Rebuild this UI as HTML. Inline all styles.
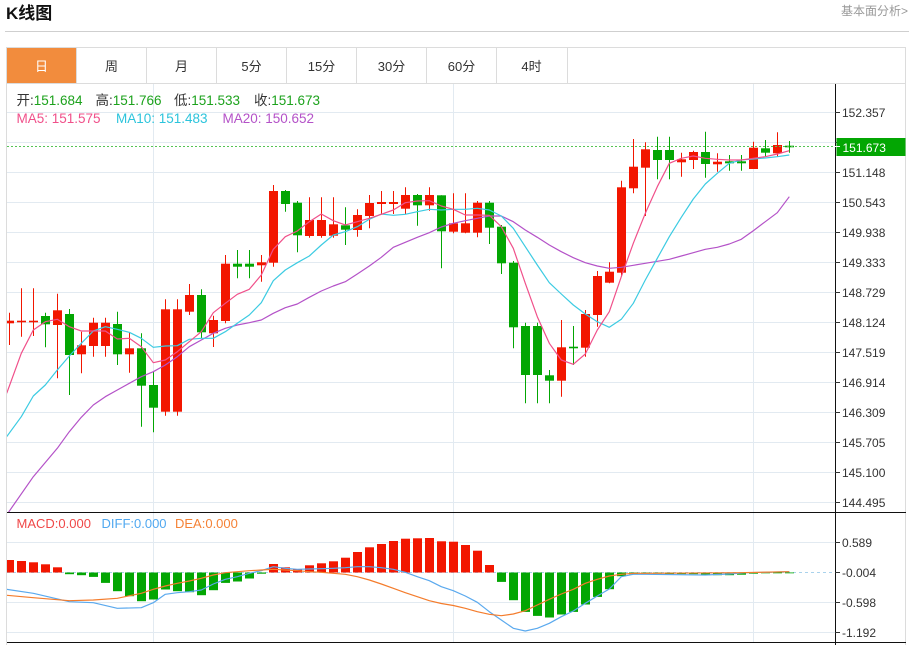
<!DOCTYPE html>
<html><head><meta charset="utf-8"><style>
html,body{margin:0;padding:0;background:#fff;}
svg{display:block;font-family:"Liberation Sans","Noto Sans CJK SC",sans-serif;}
</style></head><body>
<svg width="912" height="645" viewBox="0 0 912 645" xmlns="http://www.w3.org/2000/svg">
<defs>
<clipPath id="cm"><rect x="7" y="84" width="828" height="428"/></clipPath>
<clipPath id="cd"><rect x="7" y="513" width="828" height="129"/></clipPath>
</defs>
<rect width="912" height="645" fill="#fff"/>
<!-- header -->
<text x="6" y="19" font-size="17" font-weight="bold" fill="#111">K线图</text>
<text x="908" y="15" font-size="12" fill="#999" text-anchor="end">基本面分析&gt;</text>
<line x1="5" y1="31.5" x2="909" y2="31.5" stroke="#cfcfcf" stroke-width="1"/>
<!-- tabs -->
<rect x="6.5" y="47.5" width="899" height="36" fill="#fff" stroke="#dcdcdc"/>
<rect x="7" y="48" width="69.5" height="35" fill="#f28c3d"/>
<g stroke="#dcdcdc">
<line x1="146.5" y1="48" x2="146.5" y2="83"/><line x1="216.5" y1="48" x2="216.5" y2="83"/>
<line x1="286.5" y1="48" x2="286.5" y2="83"/><line x1="356.5" y1="48" x2="356.5" y2="83"/>
<line x1="426.5" y1="48" x2="426.5" y2="83"/><line x1="496.5" y1="48" x2="496.5" y2="83"/>
<line x1="567.5" y1="48" x2="567.5" y2="83"/><line x1="76.5" y1="48" x2="76.5" y2="83"/>
</g>
<g font-size="13" text-anchor="middle" fill="#333">
<text x="41.5" y="71" fill="#fff">日</text>
<text x="111.5" y="71">周</text>
<text x="181.5" y="71">月</text>
<text x="251.5" y="71">5分</text>
<text x="321.5" y="71">15分</text>
<text x="391.5" y="71">30分</text>
<text x="461.5" y="71">60分</text>
<text x="531.5" y="71">4时</text>
</g>
<!-- chart borders -->
<line x1="6.5" y1="83" x2="6.5" y2="645" stroke="#dcdcdc"/>
<line x1="905.5" y1="83" x2="905.5" y2="645" stroke="#dcdcdc"/>
<!-- grid -->
<g stroke="#e2eaf1" stroke-width="1">
<line x1="7" y1="112.5" x2="835" y2="112.5"/><line x1="7" y1="142.5" x2="835" y2="142.5"/>
<line x1="7" y1="172.5" x2="835" y2="172.5"/><line x1="7" y1="202.5" x2="835" y2="202.5"/>
<line x1="7" y1="232.5" x2="835" y2="232.5"/><line x1="7" y1="262.5" x2="835" y2="262.5"/>
<line x1="7" y1="292.5" x2="835" y2="292.5"/><line x1="7" y1="322.5" x2="835" y2="322.5"/>
<line x1="7" y1="352.5" x2="835" y2="352.5"/><line x1="7" y1="382.5" x2="835" y2="382.5"/>
<line x1="7" y1="412.5" x2="835" y2="412.5"/><line x1="7" y1="442.5" x2="835" y2="442.5"/>
<line x1="7" y1="472.5" x2="835" y2="472.5"/><line x1="7" y1="502.5" x2="835" y2="502.5"/>
<line x1="7" y1="542.5" x2="835" y2="542.5"/><line x1="7" y1="602.5" x2="835" y2="602.5"/>
<line x1="7" y1="632.5" x2="835" y2="632.5"/>
<line x1="153.5" y1="84" x2="153.5" y2="642"/><line x1="453.5" y1="84" x2="453.5" y2="642"/>
<line x1="753.5" y1="84" x2="753.5" y2="642"/>
</g>
<!-- legend -->
<g font-size="13.5">
<text x="16.5" y="105"><tspan fill="#333">开:</tspan><tspan fill="#1ca21c">151.684</tspan></text>
<text x="95.5" y="105"><tspan fill="#333">高:</tspan><tspan fill="#1ca21c">151.766</tspan></text>
<text x="174" y="105"><tspan fill="#333">低:</tspan><tspan fill="#1ca21c">151.533</tspan></text>
<text x="254" y="105"><tspan fill="#333">收:</tspan><tspan fill="#1ca21c">151.673</tspan></text>
<text x="16.5" y="123" fill="#f0508a">MA5: 151.575</text>
<text x="116" y="123" fill="#2cc4dc">MA10: 151.483</text>
<text x="222.5" y="123" fill="#b452c8">MA20: 150.652</text>
</g>
<!-- candles -->
<g clip-path="url(#cm)">
<g stroke="#f21600" fill="#f21600" stroke-width="1">
<line x1="9.5" y1="312.7" x2="9.5" y2="345"/><rect x="5" y="320.7" width="9" height="2.6" stroke="none"/>
<line x1="21.5" y1="288.3" x2="21.5" y2="336.7"/><rect x="17" y="320.7" width="9" height="1.6" stroke="none"/>
<line x1="33.5" y1="288.3" x2="33.5" y2="336"/><rect x="29" y="320.7" width="9" height="1.6" stroke="none"/>
<line x1="57.5" y1="293.7" x2="57.5" y2="378.3"/><rect x="53" y="310.3" width="9" height="14.7" stroke="none"/>
<line x1="81.5" y1="331.7" x2="81.5" y2="373.3"/><rect x="77" y="345.3" width="9" height="9" stroke="none"/>
<line x1="93.5" y1="317.7" x2="93.5" y2="356.7"/><rect x="89" y="322.7" width="9" height="23.3" stroke="none"/>
<line x1="105.5" y1="317.7" x2="105.5" y2="356.7"/><rect x="101" y="322.7" width="9" height="23.3" stroke="none"/>
<line x1="129.5" y1="332.3" x2="129.5" y2="372.7"/><rect x="125" y="348.3" width="9" height="6" stroke="none"/>
<line x1="165.5" y1="299.3" x2="165.5" y2="415.7"/><rect x="161" y="309.3" width="9" height="102.4" stroke="none"/>
<line x1="177.5" y1="299.3" x2="177.5" y2="415.7"/><rect x="173" y="309.3" width="9" height="102.4" stroke="none"/>
<line x1="189.5" y1="284" x2="189.5" y2="315"/><rect x="185" y="295" width="9" height="16.7" stroke="none"/>
<line x1="213.5" y1="315.7" x2="213.5" y2="347"/><rect x="209" y="320" width="9" height="13.3" stroke="none"/>
<line x1="225.5" y1="255" x2="225.5" y2="323.3"/><rect x="221" y="263.7" width="9" height="57.3" stroke="none"/>
<line x1="261.5" y1="255" x2="261.5" y2="281.7"/><rect x="257" y="262.3" width="9" height="3" stroke="none"/>
<line x1="273.5" y1="185" x2="273.5" y2="266.7"/><rect x="269" y="191" width="9" height="71.7" stroke="none"/>
<line x1="309.5" y1="197.3" x2="309.5" y2="237.7"/><rect x="305" y="220" width="9" height="16" stroke="none"/>
<line x1="321.5" y1="197.3" x2="321.5" y2="237.7"/><rect x="317" y="220" width="9" height="16" stroke="none"/>
<line x1="333.5" y1="197.3" x2="333.5" y2="237.7"/><rect x="329" y="224.3" width="9" height="11.4" stroke="none"/>
<line x1="357.5" y1="209.3" x2="357.5" y2="236.7"/><rect x="353" y="215" width="9" height="15" stroke="none"/>
<line x1="369.5" y1="195" x2="369.5" y2="228.3"/><rect x="365" y="203" width="9" height="13" stroke="none"/>
<line x1="381.5" y1="191" x2="381.5" y2="214"/><rect x="377" y="202" width="9" height="2" stroke="none"/>
<line x1="393.5" y1="191" x2="393.5" y2="214"/><rect x="389" y="202" width="9" height="2" stroke="none"/>
<line x1="405.5" y1="187.3" x2="405.5" y2="214"/><rect x="401" y="195" width="9" height="13.7" stroke="none"/>
<line x1="429.5" y1="187.3" x2="429.5" y2="210.7"/><rect x="425" y="195" width="9" height="10.3" stroke="none"/>
<line x1="453.5" y1="193.3" x2="453.5" y2="233.3"/><rect x="449" y="223.3" width="9" height="8.4" stroke="none"/>
<line x1="465.5" y1="193.3" x2="465.5" y2="233.3"/><rect x="461" y="223.3" width="9" height="9.4" stroke="none"/>
<line x1="477.5" y1="201" x2="477.5" y2="237.3"/><rect x="473" y="202.7" width="9" height="30" stroke="none"/>
<line x1="561.5" y1="320" x2="561.5" y2="396.7"/><rect x="557" y="347.3" width="9" height="33.4" stroke="none"/>
<line x1="585.5" y1="310" x2="585.5" y2="356.7"/><rect x="581" y="314" width="9" height="33.7" stroke="none"/>
<line x1="597.5" y1="271" x2="597.5" y2="326.7"/><rect x="593" y="276" width="9" height="39" stroke="none"/>
<line x1="609.5" y1="262.3" x2="609.5" y2="283.3"/><rect x="605" y="271.7" width="9" height="11" stroke="none"/>
<line x1="621.5" y1="180.7" x2="621.5" y2="276.7"/><rect x="617" y="187.3" width="9" height="85.4" stroke="none"/>
<line x1="633.5" y1="139" x2="633.5" y2="193.3"/><rect x="629" y="166.7" width="9" height="21.6" stroke="none"/>
<line x1="645.5" y1="142.3" x2="645.5" y2="216"/><rect x="641" y="149.3" width="9" height="18.4" stroke="none"/>
<line x1="681.5" y1="152.7" x2="681.5" y2="176.7"/><rect x="677" y="159.3" width="9" height="3" stroke="none"/>
<line x1="693.5" y1="150.7" x2="693.5" y2="169"/><rect x="689" y="152" width="9" height="8" stroke="none"/>
<line x1="717.5" y1="153.3" x2="717.5" y2="171.7"/><rect x="713" y="161.7" width="9" height="2.6" stroke="none"/>
<line x1="753.5" y1="141.7" x2="753.5" y2="169"/><rect x="749" y="147.7" width="9" height="21.3" stroke="none"/>
<line x1="777.5" y1="132.3" x2="777.5" y2="156.7"/><rect x="773" y="145" width="9" height="8.3" stroke="none"/>
</g>
<g stroke="#03a603" fill="#03a603" stroke-width="1">
<line x1="45.5" y1="312.7" x2="45.5" y2="347.3"/><rect x="41" y="316" width="9" height="8.3" stroke="none"/>
<line x1="69.5" y1="309" x2="69.5" y2="395"/><rect x="65" y="314" width="9" height="41" stroke="none"/>
<line x1="117.5" y1="311.7" x2="117.5" y2="365"/><rect x="113" y="324" width="9" height="30.3" stroke="none"/>
<line x1="141.5" y1="333.3" x2="141.5" y2="426.7"/><rect x="137" y="348.3" width="9" height="37.4" stroke="none"/>
<line x1="153.5" y1="371.7" x2="153.5" y2="432.3"/><rect x="149" y="385" width="9" height="22.7" stroke="none"/>
<line x1="201.5" y1="289.3" x2="201.5" y2="338.3"/><rect x="197" y="295" width="9" height="37.3" stroke="none"/>
<line x1="237.5" y1="250" x2="237.5" y2="278.3"/><rect x="233" y="263.7" width="9" height="3" stroke="none"/>
<line x1="249.5" y1="250" x2="249.5" y2="278.3"/><rect x="245" y="263.7" width="9" height="3" stroke="none"/>
<line x1="285.5" y1="190" x2="285.5" y2="211.7"/><rect x="281" y="191" width="9" height="13" stroke="none"/>
<line x1="297.5" y1="201" x2="297.5" y2="252.3"/><rect x="293" y="202.7" width="9" height="32.6" stroke="none"/>
<line x1="345.5" y1="207.3" x2="345.5" y2="245"/><rect x="341" y="225.3" width="9" height="4.4" stroke="none"/>
<line x1="417.5" y1="194" x2="417.5" y2="225.7"/><rect x="413" y="195" width="9" height="10.3" stroke="none"/>
<line x1="441.5" y1="195.3" x2="441.5" y2="268.3"/><rect x="437" y="195.3" width="9" height="36" stroke="none"/>
<line x1="489.5" y1="201" x2="489.5" y2="244"/><rect x="485" y="202.7" width="9" height="25" stroke="none"/>
<line x1="501.5" y1="225" x2="501.5" y2="274"/><rect x="497" y="226.7" width="9" height="36.6" stroke="none"/>
<line x1="513.5" y1="261" x2="513.5" y2="348.3"/><rect x="509" y="262.7" width="9" height="64.6" stroke="none"/>
<line x1="525.5" y1="322.7" x2="525.5" y2="403.3"/><rect x="521" y="326" width="9" height="49" stroke="none"/>
<line x1="537.5" y1="322.7" x2="537.5" y2="403.3"/><rect x="533" y="326" width="9" height="49" stroke="none"/>
<line x1="549.5" y1="370" x2="549.5" y2="403.3"/><rect x="545" y="375.3" width="9" height="5.4" stroke="none"/>
<line x1="573.5" y1="326" x2="573.5" y2="365"/><rect x="569" y="346.7" width="9" height="1.6" stroke="none"/>
<line x1="657.5" y1="136.7" x2="657.5" y2="179.3"/><rect x="653" y="150" width="9" height="10" stroke="none"/>
<line x1="669.5" y1="136.7" x2="669.5" y2="179.3"/><rect x="665" y="150" width="9" height="10" stroke="none"/>
<line x1="705.5" y1="131.7" x2="705.5" y2="177.7"/><rect x="701" y="152" width="9" height="12" stroke="none"/>
<line x1="729.5" y1="155" x2="729.5" y2="170.7"/><rect x="725" y="161.3" width="9" height="2" stroke="none"/>
<line x1="741.5" y1="155" x2="741.5" y2="170.7"/><rect x="737" y="161.3" width="9" height="2" stroke="none"/>
<line x1="765.5" y1="140" x2="765.5" y2="156.7"/><rect x="761" y="148.3" width="9" height="4.4" stroke="none"/>
<line x1="789.5" y1="141" x2="789.5" y2="152.7"/><rect x="785" y="145.7" width="9" height="1.6" stroke="none"/>
</g>
<!-- MA lines -->
<g fill="none" stroke-width="1.2" stroke-linejoin="round">
<polyline stroke="#b452c8" points="8,513 33.3,476.7 57.3,448.3 69.3,431.7 81.3,417.3 93.3,405 105.3,396.7 117.3,390 129.3,383.3 141.3,376.7 153.3,371.7 165.3,365 177.3,356.7 189.3,346.7 201.3,340 213.3,333.3 225.3,328.3 237.3,325 249.3,322.7 261.3,320 273.3,313.3 285.3,307.7 297.3,304 309.3,297.3 321.3,291 333.3,286 345.3,281.7 357.3,274 369.3,266 381.3,257.3 393.3,247.3 405.3,242.3 417.3,237.3 429.3,232.7 441.3,227 453.3,223.3 465.3,220.7 477.3,218.3 489.3,216 501.3,216 513.3,221.7 525.3,230 537.3,237.3 549.3,245 561.3,251.7 573.3,257.7 585.3,262.7 597.3,266 609.3,268.3 621.3,267.3 633.3,265.3 645.3,263.3 657.3,261.3 669.3,259.3 681.3,256 693.3,252.7 705.3,249.3 717.3,247.3 729.3,244 741.3,239.3 753.3,230.7 765.3,221.7 777.3,212.7 789.3,196.7"/>
<polyline stroke="#3ccbe2" points="6.7,436.7 21.3,416.7 33.3,396 45.3,385 57.3,370 69.3,356 81.3,343.3 93.3,331 105.3,326.7 117.3,329.3 129.3,332.3 141.3,338.3 153.3,347.3 165.3,346 177.3,345.7 189.3,339.3 201.3,338.3 213.3,338.3 225.3,331.7 237.3,323.3 249.3,315 261.3,302.7 273.3,280.7 285.3,270 297.3,262.7 309.3,256 321.3,245 333.3,235 345.3,231.7 357.3,226.7 369.3,219.3 381.3,214 393.3,215.3 405.3,214.3 417.3,211.7 429.3,209.3 441.3,210 453.3,209.3 465.3,209.3 477.3,208.3 489.3,210 501.3,216 513.3,228.3 525.3,246.7 537.3,265 549.3,282.7 561.3,294 573.3,305 585.3,314 597.3,321.7 609.3,327.3 621.3,319.3 633.3,303.3 645.3,280 657.3,258.3 669.3,236.7 681.3,217.3 693.3,199 705.3,184 717.3,173.3 729.3,163.3 741.3,160 753.3,159 765.3,158 777.3,156.7 789.3,155"/>
<polyline stroke="#f0508a" points="6.7,393.3 21.3,353.3 33.3,330 45.3,321.7 57.3,319.3 69.3,326.7 81.3,331 93.3,331 105.3,331 117.3,339 129.3,338.3 141.3,346.7 153.3,362.7 165.3,360 177.3,351.7 189.3,341.7 201.3,331.7 213.3,312.7 225.3,303.3 237.3,294.3 249.3,289.3 261.3,275 273.3,249.3 285.3,236.7 297.3,231 309.3,221.7 321.3,214 333.3,220.7 345.3,225 357.3,221.7 369.3,218.3 381.3,214.3 393.3,210 405.3,202.7 417.3,201 429.3,200.7 441.3,206 453.3,209.3 465.3,215 477.3,215 489.3,215.3 501.3,226.7 513.3,248.3 525.3,283.3 537.3,316.7 549.3,343.3 561.3,360 573.3,364.3 585.3,354 597.3,330 609.3,311.7 621.3,276.7 633.3,243.3 645.3,213.3 657.3,186.7 669.3,163.3 681.3,158.3 693.3,156 705.3,158.3 717.3,159.3 729.3,160 741.3,160 753.3,158.3 765.3,156.7 777.3,154 789.3,150.7"/>
</g>
</g>
<!-- current price line -->
<line x1="7" y1="146.5" x2="835" y2="146.5" stroke="#55c455" stroke-width="1" stroke-dasharray="2,2"/>
<!-- MACD -->
<g clip-path="url(#cd)">
<line x1="7" y1="572.5" x2="835" y2="572.5" stroke="#a9d2ec" stroke-width="1" stroke-dasharray="3,3"/>
<g fill="#f21600">
<rect x="5" y="560" width="9" height="12.5"/><rect x="17" y="561" width="9" height="11.5"/>
<rect x="29" y="562.3" width="9" height="10.2"/><rect x="41" y="564.3" width="9" height="8.2"/>
<rect x="53" y="567.3" width="9" height="5.2"/>
<rect x="269" y="564" width="9" height="8.5"/><rect x="281" y="567.3" width="9" height="5.2"/>
<rect x="293" y="569" width="9" height="3.5"/><rect x="305" y="565.3" width="9" height="7.2"/>
<rect x="317" y="563.3" width="9" height="9.2"/><rect x="329" y="561.3" width="9" height="11.2"/>
<rect x="341" y="557.7" width="9" height="14.8"/><rect x="353" y="552" width="9" height="20.5"/>
<rect x="365" y="547.3" width="9" height="25.2"/><rect x="377" y="544" width="9" height="28.5"/>
<rect x="389" y="541" width="9" height="31.5"/><rect x="401" y="538.7" width="9" height="33.8"/>
<rect x="413" y="538.3" width="9" height="34.2"/><rect x="425" y="538" width="9" height="34.5"/>
<rect x="437" y="541.3" width="9" height="31.2"/><rect x="449" y="541.7" width="9" height="30.8"/>
<rect x="461" y="545" width="9" height="27.5"/><rect x="473" y="550.7" width="9" height="21.8"/>
<rect x="485" y="565" width="9" height="7.5"/>
</g>
<g fill="#03a603">
<rect x="65" y="572.5" width="9" height="1.7"/><rect x="77" y="572.5" width="9" height="2.7"/>
<rect x="89" y="572.5" width="9" height="4.4"/><rect x="101" y="572.5" width="9" height="10.4"/>
<rect x="113" y="572.5" width="9" height="18.7"/><rect x="125" y="572.5" width="9" height="23.7"/>
<rect x="137" y="572.5" width="9" height="28.7"/><rect x="149" y="572.5" width="9" height="27"/>
<rect x="161" y="572.5" width="9" height="17"/><rect x="173" y="572.5" width="9" height="18.7"/>
<rect x="185" y="572.5" width="9" height="19.7"/><rect x="197" y="572.5" width="9" height="22.7"/>
<rect x="209" y="572.5" width="9" height="17.7"/><rect x="221" y="572.5" width="9" height="10.4"/>
<rect x="233" y="572.5" width="9" height="9"/><rect x="245" y="572.5" width="9" height="6"/>
<rect x="257" y="572.5" width="9" height="1.2"/>
<rect x="497" y="572.5" width="9" height="9.4"/><rect x="509" y="572.5" width="9" height="27.7"/>
<rect x="521" y="572.5" width="9" height="39.4"/><rect x="533" y="572.5" width="9" height="43.4"/>
<rect x="545" y="572.5" width="9" height="45"/><rect x="557" y="572.5" width="9" height="42"/>
<rect x="569" y="572.5" width="9" height="39.4"/><rect x="581" y="572.5" width="9" height="32"/>
<rect x="593" y="572.5" width="9" height="24.4"/><rect x="605" y="572.5" width="9" height="16.7"/>
<rect x="617" y="572.5" width="9" height="3.7"/><rect x="629" y="572.5" width="9" height="1.7"/>
<rect x="641" y="572.5" width="9" height="1.2"/><rect x="653" y="572.5" width="9" height="1.2"/>
<rect x="665" y="572.5" width="9" height="1.7"/><rect x="677" y="572.5" width="9" height="1.7"/>
<rect x="689" y="572.5" width="9" height="1.7"/><rect x="701" y="572.5" width="9" height="2.7"/>
<rect x="713" y="572.5" width="9" height="2.7"/><rect x="725" y="572.5" width="9" height="2.7"/>
<rect x="737" y="572.5" width="9" height="2.2"/><rect x="749" y="572.5" width="9" height="1.2"/>
<rect x="761" y="572.5" width="9" height="0.8"/><rect x="773" y="572.5" width="9" height="0.8"/>
<rect x="785" y="572.5" width="9" height="0.8"/>
</g>
<g fill="none" stroke-width="1.2" stroke-linejoin="round">
<polyline stroke="#5aa9ee" points="6.7,589.3 33.3,593.3 69.3,601.7 93.3,602.7 117.3,608.3 141.3,607.7 153.3,602.7 165.3,594.3 177.3,592.7 189.3,591.7 201.3,590 213.3,584 225.3,579.3 237.3,576.7 249.3,573.3 261.3,570.7 273.3,566.7 285.3,568.3 297.3,569.3 309.3,569 321.3,568.7 333.3,568.3 345.3,567.7 357.3,566.7 369.3,566.7 381.3,567.7 393.3,569.3 405.3,572.3 417.3,576.7 429.3,580.7 441.3,586.7 453.3,590.7 465.3,596 477.3,602.3 489.3,611.7 501.3,620 513.3,628.3 525.3,631 537.3,628.3 549.3,623.3 561.3,616.7 573.3,611 585.3,603.3 597.3,596 609.3,589 621.3,576.7 633.3,574.3 645.3,574.3 705.3,575 729.3,574 746.7,572.7 789.3,571.7"/>
<polyline stroke="#f47c2c" points="6.7,595.3 33.3,597.7 69.3,600.7 93.3,600 117.3,598.3 141.3,593.3 153.3,589.3 165.3,586 177.3,583.3 189.3,581 201.3,578.3 213.3,575 225.3,572.7 237.3,571.7 249.3,570.7 261.3,570 273.3,569.3 285.3,570 297.3,570.7 309.3,571.7 321.3,572.3 333.3,573.3 345.3,574.3 357.3,576.7 369.3,580 381.3,584 393.3,588.3 405.3,592.7 417.3,596.7 429.3,600.7 441.3,603.5 453.3,605.5 465.3,608.3 477.3,611.7 489.3,614.3 501.3,615.7 513.3,614 525.3,610.7 537.3,605 549.3,599.3 561.3,594 573.3,589.3 585.3,583.3 597.3,579.3 609.3,576 621.3,574.3 633.3,573.3 645.3,573.3 740,572.7 789.3,571.7"/>
</g>
</g>
<g font-size="13">
<text x="16.5" y="528" fill="#f04848">MACD:0.000</text>
<text x="101.5" y="528" fill="#50a8f0">DIFF:0.000</text>
<text x="175" y="528" fill="#f58236">DEA:0.000</text>
</g>
<!-- axes frame -->
<line x1="7" y1="512.5" x2="906" y2="512.5" stroke="#111" stroke-width="1"/>
<line x1="7" y1="642.5" x2="906" y2="642.5" stroke="#111" stroke-width="1"/>
<line x1="835.5" y1="84" x2="835.5" y2="645" stroke="#111" stroke-width="1"/>
<!-- ticks -->
<g stroke="#333" stroke-width="1">
<line x1="835" y1="112.5" x2="840" y2="112.5"/><line x1="835" y1="142.5" x2="840" y2="142.5"/>
<line x1="835" y1="172.5" x2="840" y2="172.5"/><line x1="835" y1="202.5" x2="840" y2="202.5"/>
<line x1="835" y1="232.5" x2="840" y2="232.5"/><line x1="835" y1="262.5" x2="840" y2="262.5"/>
<line x1="835" y1="292.5" x2="840" y2="292.5"/><line x1="835" y1="322.5" x2="840" y2="322.5"/>
<line x1="835" y1="352.5" x2="840" y2="352.5"/><line x1="835" y1="382.5" x2="840" y2="382.5"/>
<line x1="835" y1="412.5" x2="840" y2="412.5"/><line x1="835" y1="442.5" x2="840" y2="442.5"/>
<line x1="835" y1="472.5" x2="840" y2="472.5"/><line x1="835" y1="502.5" x2="840" y2="502.5"/>
<line x1="835" y1="542.5" x2="840" y2="542.5"/><line x1="835" y1="572.5" x2="840" y2="572.5"/>
<line x1="835" y1="602.5" x2="840" y2="602.5"/><line x1="835" y1="632.5" x2="840" y2="632.5"/>
</g>
<g font-size="12" fill="#333">
<text x="842" y="116.8">152.357</text>
<text x="842" y="146.8">151.752</text>
<text x="842" y="176.8">151.148</text>
<text x="842" y="206.8">150.543</text>
<text x="842" y="236.8">149.938</text>
<text x="842" y="266.8">149.333</text>
<text x="842" y="296.8">148.729</text>
<text x="842" y="326.8">148.124</text>
<text x="842" y="356.8">147.519</text>
<text x="842" y="386.8">146.914</text>
<text x="842" y="416.8">146.309</text>
<text x="842" y="446.8">145.705</text>
<text x="842" y="476.8">145.100</text>
<text x="842" y="506.8">144.495</text>
<text x="842" y="546.8">0.589</text>
<text x="842" y="576.8">-0.004</text>
<text x="842" y="606.8">-0.598</text>
<text x="842" y="636.8">-1.192</text>
</g>
<rect x="836.5" y="138" width="69" height="18" fill="#03a603"/>
<line x1="835" y1="146.5" x2="840" y2="146.5" stroke="#fff" stroke-width="1"/>
<text x="842.5" y="151.8" font-size="12" fill="#fff">151.673</text>
</svg>
</body></html>
